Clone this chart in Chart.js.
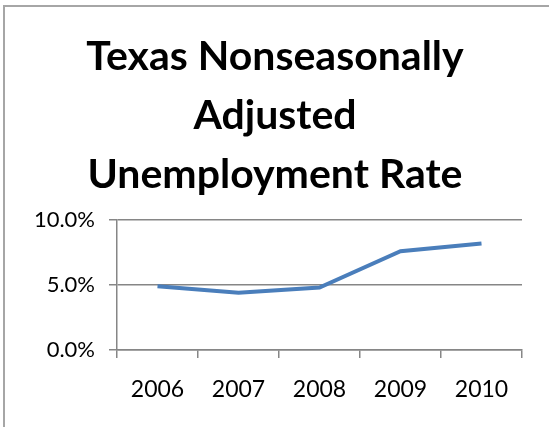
<!DOCTYPE html>
<html>
<head>
<meta charset="utf-8">
<script src="https://cdn.jsdelivr.net/npm/chart.js@4/dist/chart.umd.min.js"></script>
<style>
  html, body { margin: 0; padding: 0; background: #ffffff; }
  body { width: 549px; height: 427px; position: relative; overflow: hidden; }
  #frame { position: absolute; left: 3px; top: 5px; width: 600px; height: 440px; border: 2px solid #a6a6a6; box-sizing: border-box; }
  #wrap { position: absolute; left: 0; top: 0; width: 549px; height: 427px; }
</style>
</head>
<body>
<div id="frame"></div>
<div id="wrap"><canvas id="c" width="549" height="427"></canvas></div>
<script>
const titleLines = ["Texas Nonseasonally", "Adjusted", "Unemployment Rate"];
const years = ["2006", "2007", "2008", "2009", "2010"];
const rates = [4.9, 4.4, 4.8, 7.6, 8.2];
const yTicks = [0, 5, 10];

new Chart(document.getElementById('c'), {
  type: 'line',
  data: {
    labels: years,
    datasets: [{
      data: rates,
      borderColor: '#4A7EBB',
      borderWidth: 4,
      pointRadius: 0,
      tension: 0,
      fill: false
    }]
  },
  options: {
    responsive: false,
    animation: false,
    events: [],
    layout: { padding: { left: 28, right: 27, top: 0, bottom: 0 } },
    plugins: {
      legend: { display: false },
      tooltip: { enabled: false },
      title: {
        display: true,
        text: titleLines,
        color: '#000000',
        font: { family: 'Lato', weight: 'bold', size: 41, lineHeight: '59px' },
        padding: { top: 27, bottom: 16 }
      }
    },
    scales: {
      x: {
        offset: true,
        afterFit: (s) => { s.height = 77; },
        grid: { offset: true, drawOnChartArea: false, drawTicks: true, tickLength: 8, color: '#868686', lineWidth: 1.5 },
        border: { display: true, color: '#868686', width: 1.5 },
        ticks: { color: '#000000', font: { family: 'Lato', size: 23 }, padding: 18, maxRotation: 0 }
      },
      y: {
        min: 0,
        max: 10,
        afterFit: (s) => { s.width = 89; },
        afterBuildTicks: (s) => { s.ticks = yTicks.map(v => ({ value: v })); },
        grid: { drawTicks: true, tickLength: 8, color: '#868686', lineWidth: 1.5 },
        border: { display: true, color: '#868686', width: 1.5 },
        ticks: {
          color: '#000000',
          font: { family: 'Lato', size: 22 },
          padding: 14,
          callback: (v) => Number(v).toFixed(1) + '%'
        }
      }
    }
  }
});
</script>
</body>
</html>
